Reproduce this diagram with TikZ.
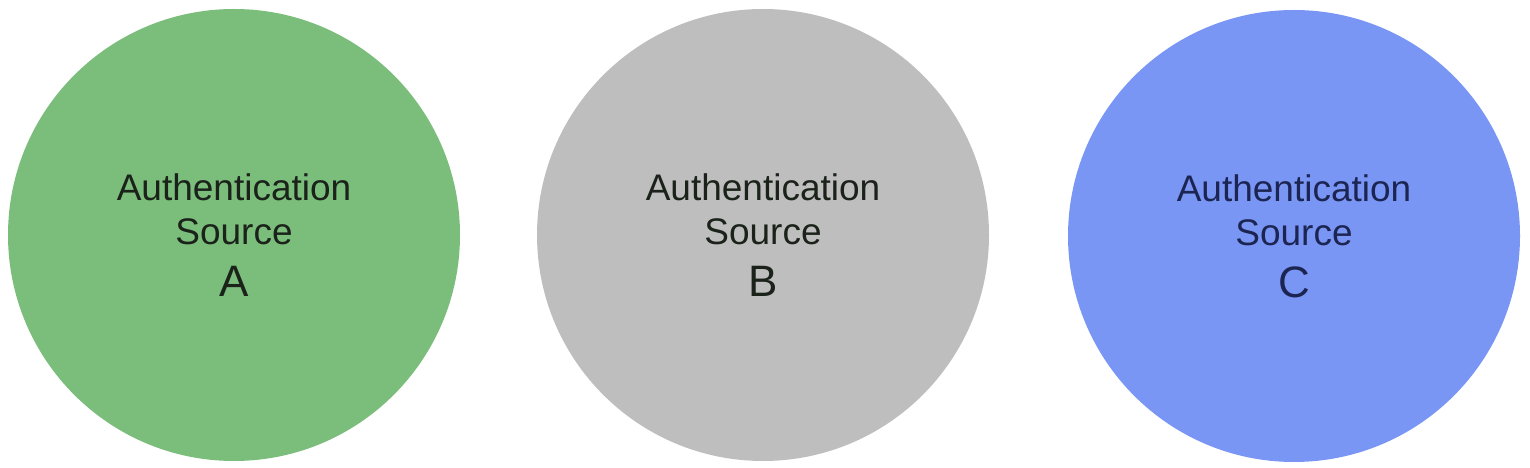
\documentclass[tikz,border=0pt]{standalone}
\usepackage{fontspec}
\setmainfont{Liberation Sans}
\usetikzlibrary{positioning}
\definecolor{srcGreen}{HTML}{7BBD7B}
\definecolor{srcGrey}{HTML}{BEBEBE}
\definecolor{srcBlue}{HTML}{7A96F5}
\definecolor{inkDark}{HTML}{1A221A}
\definecolor{inkBlue}{HTML}{1C2552}
\tikzset{
  srcdisc/.style={circle,draw=none,minimum size=452pt,inner sep=0pt,align=center,
    font=\fontsize{37}{44}\selectfont,text=inkDark}}
\newcommand{\srclabel}[1]{Authentication\\Source\\[8pt]{\fontsize{44}{46}\selectfont #1}}

\begin{document}
\begin{tikzpicture}[x=1pt,y=1pt]
\useasboundingbox (0,0) rectangle (1530,468);
\node[srcdisc,fill=srcGreen] (srcA) at (234,233) {\srclabel{A}};
\node[srcdisc,fill=srcGrey] (srcB) at (763,233) {\srclabel{B}};
\node[srcdisc,fill=srcBlue,text=inkBlue] (srcC) at (1294,232) {\srclabel{C}};
\end{tikzpicture}
\end{document}
